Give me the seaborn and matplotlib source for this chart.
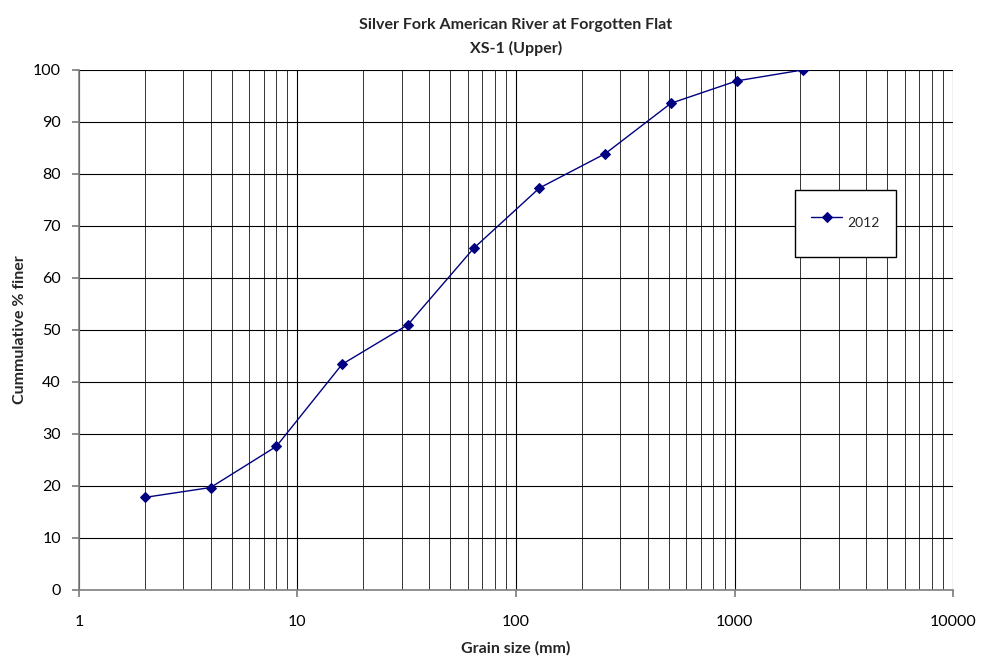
import matplotlib
matplotlib.use("Agg")
import matplotlib.pyplot as plt
import seaborn as sns
import pandas as pd
import numpy as np
from matplotlib.ticker import LogLocator, FixedLocator, NullFormatter

grain_size = [2, 4, 8, 16, 32, 64, 128, 256, 512, 1024, 2048]
pct_finer = [17.8, 19.7, 27.6, 43.4, 51.0, 65.7, 77.3, 83.9, 93.6, 97.9, 100.0]
series_name = "2012"
x_ticks = [1, 10, 100, 1000, 10000]
x_tick_labels = ["1", "10", "100", "1000", "10000"]
y_ticks = list(range(0, 101, 10))

sns.set_theme(style="white")
plt.rcParams['font.family'] = ['Lato', 'DejaVu Sans']

df = pd.DataFrame({"size": grain_size, "finer": pct_finer, "series": series_name})

fig = plt.figure(figsize=(9.82, 6.62), dpi=100)
ax = fig.add_axes([0.0804, 0.1088, 0.8901, 0.7855])

sns.lineplot(data=df, x="size", y="finer", hue="series", palette=["#000080"],
             marker="D", markersize=5, markeredgecolor="#000080", linewidth=1,
             ax=ax, legend=True)

ax.set_xscale("log")
ax.set_xlim(1, 10000)
ax.set_ylim(0, 100)
ax.xaxis.set_major_locator(FixedLocator(x_ticks))
ax.set_xticklabels(x_tick_labels)
ax.xaxis.set_minor_locator(LogLocator(base=10, subs=np.arange(2, 10)))
ax.xaxis.set_minor_formatter(NullFormatter())
ax.set_yticks(y_ticks)

ax.grid(True, which="major", axis="both", color="black", linewidth=0.8)
ax.grid(True, which="minor", axis="x", color="#333333", linewidth=0.7)
ax.set_axisbelow(True)

for s in ["top", "right"]:
    ax.spines[s].set_visible(False)
for s in ["left", "bottom"]:
    ax.spines[s].set_color("#808080")
    ax.spines[s].set_linewidth(1.2)

ax.tick_params(axis="both", which="major", direction="out", length=5, color="#808080",
               labelsize=11.5, labelcolor="black", bottom=True, left=True, pad=8)
ax.tick_params(axis="x", which="minor", length=0)
ax.tick_params(axis="x", which="major", pad=13)

ax.set_xlabel("Grain size (mm)", fontsize=11.5, fontweight="bold", labelpad=9)
ax.set_ylabel("Cummulative % finer", fontsize=11.5, fontweight="bold", labelpad=4)
ax.set_title("Silver Fork American River at Forgotten Flat\nXS-1 (Upper)",
             fontsize=11.5, fontweight="bold", pad=12, linespacing=1.75)

leg = ax.legend(loc="center", bbox_to_anchor=(0.877, 0.705), frameon=True,
                fancybox=False, edgecolor="black", fontsize=10,
                borderpad=1.2, handleheight=3.4, handlelength=2.2,
                handletextpad=0.4, borderaxespad=0)
leg.get_frame().set_linewidth(1.0)
leg.get_frame().set_alpha(1)

fig.savefig("out.png", dpi=100)
